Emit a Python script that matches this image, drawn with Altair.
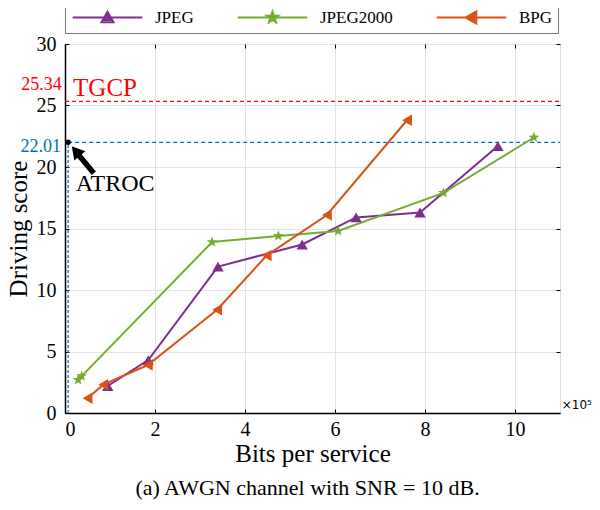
import altair as alt
import pandas as pd

# ---------------- data ----------------
codecs = ["JPEG", "JPEG2000", "BPG"]
colors = ["#7E2F8E", "#77AC30", "#D95319"]

jpeg_x = [0.95, 1.85, 3.40, 5.27, 6.47, 7.89, 9.62]
jpeg_y = [2.2, 4.3, 11.9, 13.7, 15.9, 16.3, 21.7]

j2k_x = [0.29, 0.37, 3.27, 4.74, 6.07, 8.41, 10.42]
j2k_y = [2.7, 3.0, 13.9, 14.4, 14.8, 17.9, 22.4]

bpg_x = [0.50, 0.85, 1.84, 3.38, 4.48, 5.82, 7.60]
bpg_y = [1.2, 2.3, 3.9, 8.4, 12.8, 16.1, 23.8]

tgcp_value = 25.34
atroc_value = 22.01
atroc_x = 0.07

x_ticks = [0, 2, 4, 6, 8, 10]
y_ticks = [0, 5, 10, 15, 20, 25, 30]
x_domain = [0, 11]
y_domain = [0, 30]

caption = "(a) AWGN channel with SNR = 10 dB."

rows = []
for name, xs_, ys_ in [("JPEG", jpeg_x, jpeg_y), ("JPEG2000", j2k_x, j2k_y), ("BPG", bpg_x, bpg_y)]:
    for i, (a, b) in enumerate(zip(xs_, ys_)):
        rows.append({"codec": name, "bits": a, "score": b, "order": i})
df = pd.DataFrame(rows)

FONT = "Liberation Serif"
W, H = 495, 369

xs = alt.Scale(domain=x_domain, nice=False, zero=False)
ys = alt.Scale(domain=y_domain, nice=False, zero=False)

STAR = "M0,-1L0.24,-0.33L0.95,-0.31L0.39,0.13L0.59,0.81L0,0.42L-0.59,0.81L-0.39,0.13L-0.95,-0.31L-0.24,-0.33Z"
# legend glyphs: a line stub plus nested outlines so that a stroke-only symbol looks filled
STUB = "M-5.8,0H5.8"
LG_TRI_UP = "M0,-0.95L1,0.8L-1,0.8Z M0,-0.4L0.45,0.4L-0.45,0.4Z M-0.1,0.15H0.1"
LG_STAR = ("M0,-1L0.24,-0.33L0.95,-0.31L0.39,0.13L0.59,0.81L0,0.42L-0.59,0.81L-0.39,0.13L-0.95,-0.31L-0.24,-0.33Z"
           " M0,-0.45L0.11,-0.15L0.43,-0.14L0.18,0.06L0.27,0.36L0,0.19L-0.27,0.36L-0.18,0.06L-0.43,-0.14L-0.11,-0.15Z")
LG_TRI_LEFT = "M-1,0L0.8,-1L0.8,1Z M-0.35,0L0.45,-0.45L0.45,0.45Z M0.15,-0.1V0.1"
legend_shapes = [STUB + LG_TRI_UP, STUB + LG_STAR, STUB + LG_TRI_LEFT]
point_shapes = ["triangle-up", STAR, "triangle-left"]

base = alt.Chart(df)

# axis carrier (invisible) with labelled axes and grid
axis_layer = base.mark_point(opacity=0).encode(
    x=alt.X("bits:Q", scale=xs,
            axis=alt.Axis(values=x_ticks, title="Bits per service", grid=True, gridColor="#e3e3e3",
                          ticks=False, domainColor="#000", domainWidth=1.5, labelPadding=6,
                          titlePadding=2, labelFont=FONT, labelFontSize=20, titleFont=FONT,
                          titleFontSize=25, titleFontWeight="normal", labelColor="#000", titleColor="#000")),
    y=alt.Y("score:Q", scale=ys,
            axis=alt.Axis(values=y_ticks, title="Driving score", grid=True, gridColor="#e3e3e3",
                          ticks=False, domainColor="#000", domainWidth=1.5, labelPadding=9,
                          titlePadding=5, labelFont=FONT, labelFontSize=20, titleFont=FONT,
                          titleFontSize=25, titleFontWeight="normal", labelColor="#000", titleColor="#000")),
)

# lines and markers, one layer per codec
series_layers = []
for name, col, shp in zip(codecs, colors, point_shapes):
    sub = base.transform_filter(alt.datum.codec == name)
    series_layers.append(sub.mark_line(strokeWidth=2, color=col).encode(
        x=alt.X("bits:Q", scale=xs, axis=None),
        y=alt.Y("score:Q", scale=ys, axis=None),
        order="order:Q"))
for name, col, shp in zip(codecs, colors, point_shapes):
    sub = base.transform_filter(alt.datum.codec == name)
    series_layers.append(sub.mark_point(filled=True, size=130, opacity=1, shape=shp, color=col).encode(
        x=alt.X("bits:Q", scale=xs, axis=None),
        y=alt.Y("score:Q", scale=ys, axis=None)))

def tick_layer(xorient, yorient):
    return base.mark_point(opacity=0).encode(
        x=alt.X("bits:Q", scale=xs,
                axis=alt.Axis(orient=xorient, offset=-H, values=x_ticks, labels=False, domain=False,
                              grid=False, ticks=True, tickSize=4, tickColor="#000", title=None)),
        y=alt.Y("score:Q", scale=ys,
                axis=alt.Axis(orient=yorient, offset=-W, values=y_ticks, labels=False, domain=False,
                              grid=False, ticks=True, tickSize=4, tickColor="#000", title=None)),
    )

ticks_a = tick_layer("top", "right")
ticks_b = tick_layer("bottom", "left")

leg = alt.Legend(orient="none", legendX=0, legendY=-40, direction="horizontal", title=None,
                 symbolSize=144, symbolStrokeWidth=2, symbolOpacity=1, gridAlign="none",
                 symbolOffset=29, labelOffset=39, columnPadding=39,
                 padding=5, strokeColor="#777", labelFont=FONT, labelFontSize=17,
                 labelColor="#000", fillColor="#ffffff")

legend_layer = base.mark_point(filled=False, opacity=0, strokeWidth=2).encode(
    x=alt.X("bits:Q", scale=xs, axis=None),
    y=alt.Y("score:Q", scale=ys, axis=None),
    color=alt.Color("codec:N", scale=alt.Scale(domain=codecs, range=colors), legend=leg),
    shape=alt.Shape("codec:N", scale=alt.Scale(domain=codecs, range=legend_shapes), legend=leg),
)

# reference lines
def hline(value, color, x0):
    return alt.Chart(pd.DataFrame({"val": [value], "x0": [x0], "x1": [x_domain[1]]})).mark_rule(
        strokeDash=[4, 3], strokeWidth=1.2, color=color).encode(
        x=alt.X("x0:Q", scale=xs, axis=None), x2="x1:Q",
        y=alt.Y("val:Q", scale=ys, axis=None))

h_tgcp = hline(tgcp_value, "#FF0000", x_domain[0])
h_atroc = hline(atroc_value, "#0072BD", atroc_x)

vline = alt.Chart(pd.DataFrame({"x": [atroc_x], "y0": [0], "y1": [atroc_value]})).mark_rule(
    strokeDash=[3, 2], strokeWidth=1.2, color="#0072BD").encode(
    x=alt.X("x:Q", scale=xs, axis=None), y=alt.Y("y0:Q", scale=ys, axis=None), y2="y1:Q")
dot = alt.Chart(pd.DataFrame({"x": [atroc_x], "y": [atroc_value]})).mark_point(
    filled=True, size=30, color="#000", opacity=1).encode(
    x=alt.X("x:Q", scale=xs, axis=None), y=alt.Y("y:Q", scale=ys, axis=None))

# arrow to ATROC
arrow_tail = [0.64, 19.5]
arrow_base = [0.30, 21.0]
arrow_head = [0.24, 21.3]
arrow_line = alt.Chart(pd.DataFrame({"x": [arrow_tail[0]], "y": [arrow_tail[1]],
                                     "x2": [arrow_base[0]], "y2": [arrow_base[1]]})).mark_rule(
    strokeWidth=5.5, color="#000").encode(
    x=alt.X("x:Q", scale=xs, axis=None), y=alt.Y("y:Q", scale=ys, axis=None), x2="x2:Q", y2="y2:Q")
arrow_tip = alt.Chart(pd.DataFrame({"x": [arrow_head[0]], "y": [arrow_head[1]]})).mark_point(
    shape="triangle-up", filled=True, size=210, angle=320, color="#000", opacity=1).encode(
    x=alt.X("x:Q", scale=xs, axis=None), y=alt.Y("y:Q", scale=ys, axis=None))

# annotation texts
ann = pd.DataFrame({
    "x": [-0.07, 0.18, -0.09, 0.24],
    "y": [26.67, 26.4, 21.6, 18.6],
    "t": ["25.34", "TGCP", "22.01", "ATROC"],
    "c": ["#FF0000", "#FF0000", "#0072BD", "#000000"],
    "s": [18, 25, 18, 24],
    "a": ["right", "left", "right", "left"],
})
texts = []
for _, r in ann.iterrows():
    texts.append(alt.Chart(pd.DataFrame([r])).mark_text(
        font=FONT, fontSize=int(r["s"]), color=r["c"], align=r["a"], baseline="middle").encode(
        x=alt.X("x:Q", scale=xs, axis=None), y=alt.Y("y:Q", scale=ys, axis=None), text="t:N"))

expo = alt.Chart(pd.DataFrame({"x": [11.04], "y": [0.65], "t": ["×10⁵"]})).mark_text(
    font="DejaVu Sans", fontSize=12, color="#000", align="left", baseline="middle").encode(
    x=alt.X("x:Q", scale=xs, axis=None), y=alt.Y("y:Q", scale=ys, axis=None), text="t:N")

chart = alt.layer(
    axis_layer, ticks_a, ticks_b, h_tgcp, h_atroc, vline, arrow_line, arrow_tip, dot, *series_layers,
    legend_layer, *texts, expo
).resolve_axis(x="independent", y="independent").properties(
    width=W, height=H,
    autosize=alt.AutoSizeParams(type="none"),
    padding={"left": 57, "top": 36, "right": 32, "bottom": 89},
    title=alt.TitleParams(caption, orient="bottom", anchor="middle", font=FONT, fontSize=22,
                          fontWeight="normal", color="#000", offset=12, dx=-5),
).configure_view(stroke="#333", strokeWidth=1).configure_legend(
    labelFont=FONT, labelFontSize=17).configure(background="#ffffff")

chart.save("out.html", embed_options={"renderer": "svg", "actions": False})
